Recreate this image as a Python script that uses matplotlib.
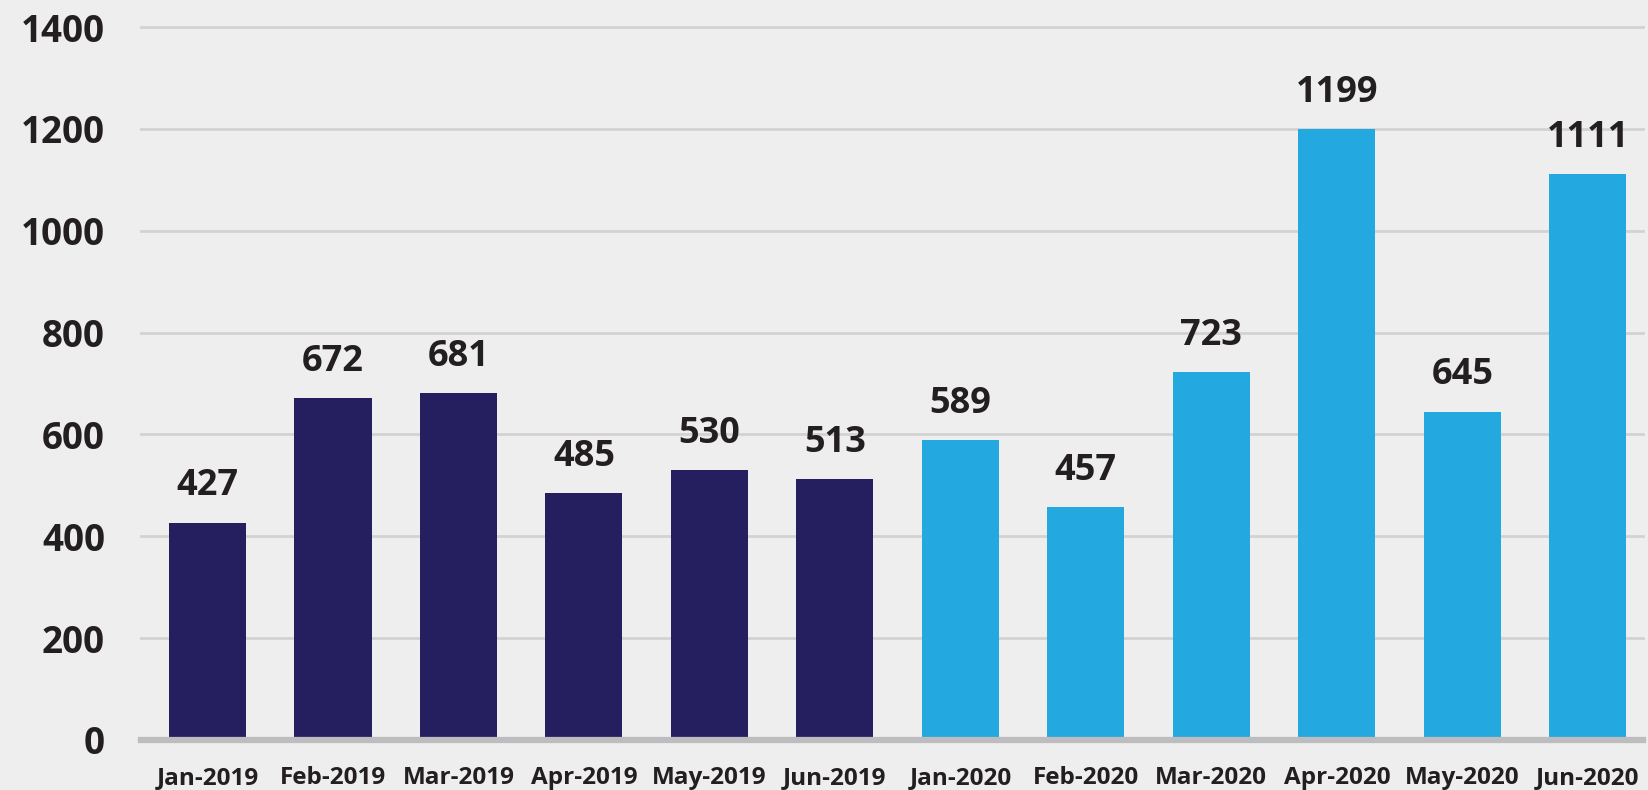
import matplotlib
matplotlib.use("Agg")
import matplotlib.pyplot as plt
import numpy as np

months = ["Jan-2019", "Feb-2019", "Mar-2019", "Apr-2019", "May-2019", "Jun-2019",
          "Jan-2020", "Feb-2020", "Mar-2020", "Apr-2020", "May-2020", "Jun-2020"]
counts = [427, 672, 681, 485, 530, 513, 589, 457, 723, 1199, 645, 1111]
years = [2019] * 6 + [2020] * 6
yticks = [0, 200, 400, 600, 800, 1000, 1200, 1400]

bg = "#eeeeee"
text_col = "#231f20"
year_colors = {2019: "#251f60", 2020: "#24a8e0"}

plt.rcParams["font.family"] = ["Open Sans", "DejaVu Sans"]
plt.rcParams["font.weight"] = "bold"

fig = plt.figure(figsize=(16.49, 7.90), dpi=100, facecolor=bg)
ax = fig.add_axes([141 / 1649, 50 / 790, (1643 - 141) / 1649, (740 - 27) / 790])
ax.set_facecolor(bg)

x = np.arange(len(months))
colors = [year_colors[y] for y in years]
bars = ax.bar(x, counts, width=0.614, color=colors, zorder=3)

for rect, v in zip(bars, counts):
    ax.annotate(str(v), (rect.get_x() + rect.get_width() / 2, v),
                xytext=(0, 13), textcoords="offset points",
                ha="center", va="bottom", fontsize=26, fontweight="bold",
                color=text_col)

ax.set_xlim(-0.53, 11.44)
ax.set_ylim(0, 1400)
ax.set_yticks(yticks)
ax.set_yticklabels([str(t) for t in yticks], fontsize=26.5, fontweight="bold", color=text_col)
ax.set_xticks(x)
ax.set_xticklabels(months, fontsize=17.5, fontweight="bold", color=text_col)
ax.tick_params(axis="y", length=0, pad=26)
ax.tick_params(axis="x", length=0, pad=19)

for t in yticks[1:]:
    ax.axhline(t, color="#d2d2d2", lw=2, zorder=1, clip_on=False)
ax.axhline(0, color="#bdbdc0", lw=4.5, zorder=4, clip_on=False)

for s in ax.spines.values():
    s.set_visible(False)

fig.savefig("out.png", dpi=100, facecolor=bg)
